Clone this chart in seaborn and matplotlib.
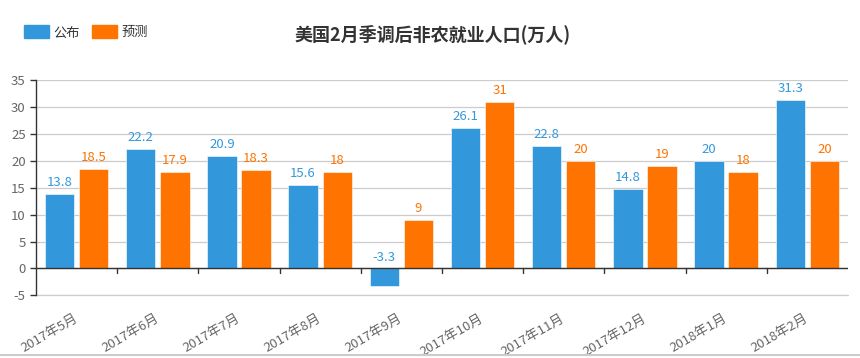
import pandas as pd
import numpy as np
import matplotlib
matplotlib.use('Agg')
import matplotlib.pyplot as plt
import seaborn as sns
from matplotlib.patches import Patch
from matplotlib.lines import Line2D

# data
months = ['2017年5月', '2017年6月', '2017年7月', '2017年8月', '2017年9月',
          '2017年10月', '2017年11月', '2017年12月', '2018年1月', '2018年2月']
published = [13.8, 22.2, 20.9, 15.6, -3.3, 26.1, 22.8, 14.8, 20, 31.3]
forecast = [18.5, 17.9, 18.3, 18, 9, 31, 20, 19, 18, 20]
series_names = ['公布', '预测']
colors = ['#3398DB', '#FF7300']

df = pd.DataFrame({
    'month': months * 2,
    'value': published + forecast,
    'series': [series_names[0]] * len(months) + [series_names[1]] * len(months),
})

sns.set_style('white')
plt.rcParams['font.family'] = ['Noto Sans CJK SC', 'DejaVu Sans']
plt.rcParams['axes.unicode_minus'] = False

fig = plt.figure(figsize=(8.6, 3.58), dpi=100)
ax = fig.add_axes([0.0419, 0.175, 0.944, 0.601])

sns.barplot(data=df, x='month', y='value', hue='series', palette=colors,
            width=0.84, gap=0.14, ax=ax, legend=False, saturation=1,
            edgecolor='white', linewidth=0.4)

ax.set_ylim(-5, 35)
ax.set_xlim(-0.5, len(months) - 0.5)
ax.set_yticks(range(-5, 36, 5))
ax.yaxis.grid(True, color='#cccccc', linewidth=0.9)
ax.set_axisbelow(True)
ax.set_xlabel('')
ax.set_ylabel('')
# bottom grid line sits on the axes edge, draw it unclipped
ax.axhline(-5, color='#cccccc', linewidth=0.9, clip_on=False, zorder=0)

for s in ['top', 'right', 'bottom']:
    ax.spines[s].set_visible(False)
ax.spines['left'].set_color('#333333')
ax.spines['left'].set_linewidth(1)
ax.axhline(0, color='#333333', linewidth=1, zorder=3)

# category boundary ticks on zero line
for b in np.arange(0.5, len(months) - 0.5, 1):
    ax.plot([b, b], [0, -0.9], color='#333333', linewidth=1, zorder=3, clip_on=False)

ax.tick_params(axis='y', colors='#333333', labelcolor='#666666', labelsize=9.5,
               length=4, width=1, direction='out', left=True)
ax.tick_params(axis='x', length=0, labelcolor='#666666', labelsize=9.5, pad=16)
plt.setp(ax.get_xticklabels(), rotation=30, ha='right', va='center', rotation_mode='anchor')

# value labels
for container, col in zip(ax.containers, colors):
    for bar in container:
        v = bar.get_height()
        top = max(v, 0)
        x = bar.get_x() + bar.get_width() / 2
        ax.annotate(f'{v:g}', (x, top), xytext=(0, 3.5), textcoords='offset points',
                    ha='center', va='bottom', color=col, fontsize=9.5)

fig.text(0.503, 0.905, '美国2月季调后非农就业人口(万人)', ha='center', va='center',
         fontsize=13, fontweight='bold', color='#333333')

handles = [Patch(facecolor=c, edgecolor=c, label=n) for c, n in zip(colors, series_names)]
fig.legend(handles=handles, loc='upper left', bbox_to_anchor=(0.014, 0.962), ncol=2,
           frameon=False, fontsize=9.5, handlelength=1.9, handleheight=1.1,
           handletextpad=0.35, columnspacing=0.9, labelcolor='#333333')

fig.add_artist(Line2D([0, 1], [0.008, 0.008], color='#cccccc', linewidth=1.5,
                      transform=fig.transFigure))

fig.savefig('out.png', dpi=100)
